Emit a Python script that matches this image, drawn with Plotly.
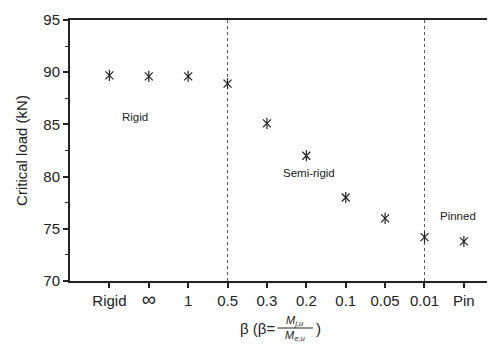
import plotly.graph_objects as go

categories = ["Rigid", "∞", "1", "0.5", "0.3", "0.2", "0.1", "0.05", "0.01", "Pin"]
critical_load = [89.7, 89.6, 89.6, 88.9, 85.1, 82.0, 78.0, 76.0, 74.2, 73.8]
region_labels = ["Rigid", "Semi-rigid", "Pinned"]
region_x = [0.65, 5.07, 8.85]
region_y = [85.7, 80.35, 76.2]
boundaries = ["0.5", "0.01"]

# the page body adds an 8px offset, so the figure is drawn 8px smaller
OFF = 8
W, H = 495 - OFF, 347 - OFF
ML, MR, MT, MB = 70 - OFF, 0, 20 - OFF, 66
PW, PH = W - ML - MR, H - MT - MB

def px(x):  # page pixel -> paper x
    return (x - OFF - ML) / PW

def py(y):  # page pixel -> paper y
    return (H - MB - (y - OFF)) / PH

FONT = "Liberation Sans, Arial, sans-serif"
INK = "#222222"

tick_text = [("<span style='font-size:20px'>%s</span>" % c) if c == "∞" else c
             for c in categories]

fig = go.Figure()
# asterisk markers: X + vertical stroke
for sym in ["x-thin-open", "line-ns-open"]:
    fig.add_trace(go.Scatter(x=categories, y=critical_load, mode="markers",
                             marker=dict(symbol=sym, size=8, color=INK,
                                         line=dict(color=INK, width=1.2)),
                             showlegend=False, hoverinfo="skip"))

for b in boundaries:
    idx = categories.index(b)
    fig.add_shape(type="line", xref="x", yref="paper", x0=idx, x1=idx, y0=0, y1=1,
                  line=dict(color="#555555", width=1, dash="dot"), layer="below")

for t, x, y in zip(region_labels, region_x, region_y):
    fig.add_annotation(x=x, y=y, xref="x", yref="y", text=t, showarrow=False,
                       font=dict(family=FONT, size=11.5, color=INK))

# x-axis title with a stacked fraction
title_y = 328
fig.add_annotation(x=px(277), y=py(title_y), xref="paper", yref="paper",
                   text="β (β=", showarrow=False, xanchor="right", yanchor="middle",
                   font=dict(family=FONT, size=15, color=INK))
fig.add_shape(type="line", xref="paper", yref="paper",
              x0=px(277.5), x1=px(313), y0=py(title_y), y1=py(title_y),
              line=dict(color=INK, width=1.2))
fig.add_annotation(x=px(295), y=py(title_y - 7), xref="paper", yref="paper",
                   text="<i>M</i><sub><i>j,u</i></sub>", showarrow=False,
                   xanchor="center", yanchor="middle",
                   font=dict(family=FONT, size=11, color=INK))
fig.add_annotation(x=px(295), y=py(title_y + 8), xref="paper", yref="paper",
                   text="<i>M</i><sub><i>e,u</i></sub>", showarrow=False,
                   xanchor="center", yanchor="middle",
                   font=dict(family=FONT, size=11, color=INK))
fig.add_annotation(x=px(314), y=py(title_y), xref="paper", yref="paper",
                   text=")", showarrow=False, xanchor="left", yanchor="middle",
                   font=dict(family=FONT, size=15, color=INK))

fig.update_layout(
    width=W, height=H,
    margin=dict(l=ML, r=MR, t=MT, b=MB, autoexpand=False),
    paper_bgcolor="white", plot_bgcolor="white",
    font=dict(family=FONT, color=INK),
    showlegend=False,
)
fig.update_xaxes(type="category", categoryorder="array", categoryarray=categories,
                 tickvals=categories, ticktext=tick_text,
                 range=[-1, 9.79], showgrid=False, zeroline=False,
                 showline=True, linecolor=INK, linewidth=2, mirror=True,
                 ticks="outside", ticklen=5, tickwidth=1.5, tickcolor=INK,
                 tickfont=dict(family=FONT, size=15, color=INK))
fig.update_yaxes(range=[70, 95], dtick=5, tick0=70, showgrid=False, zeroline=False,
                 showline=True, linecolor=INK, linewidth=2,
                 ticks="outside", ticklen=5, tickwidth=1.5, tickcolor=INK,
                 minor=dict(dtick=2.5, ticks="outside", ticklen=3, tickwidth=1.2,
                            tickcolor=INK, showgrid=False),
                 tickfont=dict(family=FONT, size=15, color=INK),
                 title=dict(text="Critical load (kN)", standoff=12,
                            font=dict(family=FONT, size=15, color=INK)))

fig.write_html("out.html")
